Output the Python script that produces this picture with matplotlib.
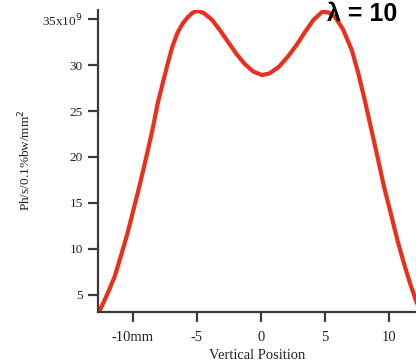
import matplotlib
matplotlib.use("Agg")
import matplotlib.pyplot as plt

# Data (x in mm, y in units of 1e9)
position = [-12.6, -12.0, -11.4, -10.9, -10.4, -10.0, -9.6, -9.2, -8.8, -8.4, -8.05, -7.6, -7.27,
            -6.9, -6.5, -6.1, -5.7, -5.3, -4.9, -4.4, -3.8, -3.2, -2.6, -1.9, -1.25, -0.6, 0.1,
            0.7, 1.4, 2.1, 2.8, 3.4, 4.1, 4.8, 5.3, 5.8, 6.4, 7.1, 7.6, 8.1, 8.6, 9.1, 9.6,
            10.2, 10.7, 11.25, 11.7, 12.2]
intensity = [3.2, 5.0, 7.0, 9.3, 11.7, 13.9, 16.1, 18.4, 20.8, 23.3, 25.8, 28.3, 30.1,
             32.0, 33.5, 34.5, 35.2, 35.7, 35.9, 35.6, 34.9, 33.8, 32.6, 31.2, 30.1, 29.3, 28.9,
             29.1, 29.8, 30.9, 32.2, 33.5, 34.9, 35.8, 35.7, 35.2, 33.9, 31.6, 29.1, 26.2, 23.1, 20.0, 16.8,
             13.5, 10.7, 8.0, 6.0, 4.0]

xticks = [-10, -5, 0, 5, 10]
xtick_labels = ["-10mm", "-5", "0", "5", "10"]
yticks = [5, 10, 15, 20, 25, 30, 35]
ytick_labels = ["5", "10", "15", "20", "25", "30", "35x10$^9$"]

serif = "Liberation Serif"
axis_color = "#3a3a3a"

fig = plt.figure(figsize=(4.16, 3.62), dpi=100)
ax = fig.add_axes([98 / 416, 50 / 362, 318 / 416, 302 / 362])

ax.plot(position, intensity, color="#ec2f1c", linewidth=3.0, solid_capstyle="round",
        solid_joinstyle="round", clip_on=True)

ax.set_xlim(-12.7, 12.1)
ax.set_ylim(3.15, 35.98)

ax.set_xticks(xticks)
ax.set_xticklabels(xtick_labels, fontfamily=serif, fontsize=10.5)
ax.set_yticks(yticks)
ax.set_yticklabels(ytick_labels, fontfamily=serif, fontsize=9.5)

for s in ["top", "right"]:
    ax.spines[s].set_visible(False)
for s in ["left", "bottom"]:
    ax.spines[s].set_linewidth(1.6)
    ax.spines[s].set_color(axis_color)

ax.tick_params(axis="both", direction="out", length=7, width=1.6, color=axis_color,
               labelcolor="#222222", pad=4)
ax.tick_params(axis="x", pad=7)

ax.set_xlabel("Vertical Position", fontfamily=serif, fontsize=10.5, color="#222222", labelpad=3)
fig.text(25 / 416, 1 - 160 / 362, "Ph/s/0.1%bw/mm$^2$", rotation=90, fontfamily=serif,
         fontsize=9.5, color="#222222", ha="center", va="center")

fig.text(327 / 416, 1 - 21 / 362, "λ = 10", fontfamily="Liberation Sans", fontweight="bold",
         fontsize=18, color="black", ha="left", va="baseline")

fig.savefig("out.png", dpi=100)
